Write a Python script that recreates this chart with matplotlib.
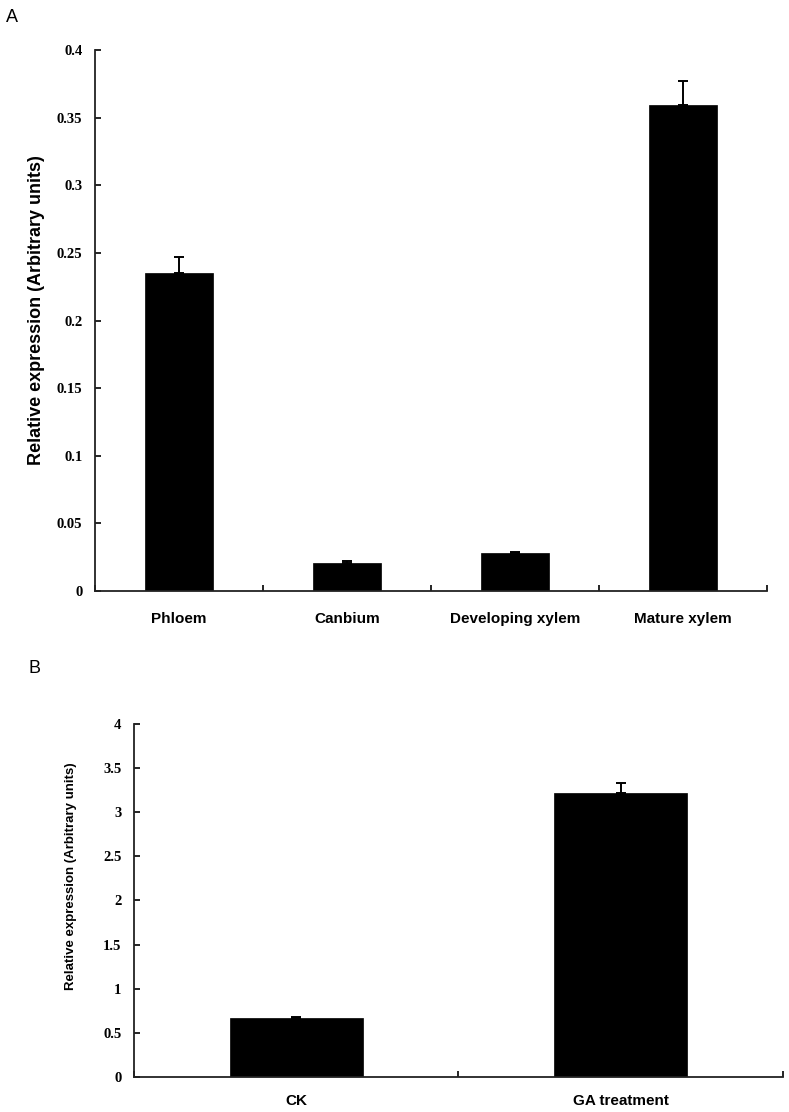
import numpy as np
import matplotlib
matplotlib.use("Agg")
import matplotlib.pyplot as plt

# panel A data
tissues = ["Phloem", "Canbium", "Developing xylem", "Mature xylem"]
tissue_expr = [0.235, 0.021, 0.028, 0.359]
tissue_err = [0.012, 0.001, 0.001, 0.018]
ticks_a = [0, 0.05, 0.1, 0.15, 0.2, 0.25, 0.3, 0.35, 0.4]
ticklabels_a = ["0", "0.05", "0.1", "0.15", "0.2", "0.25", "0.3", "0.35", "0.4"]

# panel B data
treatments = ["CK", "GA treatment"]
treat_expr = [0.665, 3.22]
treat_err = [0.015, 0.115]
ticks_b = [0, 0.5, 1, 1.5, 2, 2.5, 3, 3.5, 4]
ticklabels_b = ["0", "0.5", "1", "1.5", "2", "2.5", "3", "3.5", "4"]

ylab = "Relative expression (Arbitrary units)"

fig = plt.figure(figsize=(7.89, 11.12), dpi=100)


def draw_panel(ax, cats, vals, errs, ticks, ticklabels, xpad, ylab_size, ylab_pos):
    x = np.arange(len(cats))
    ax.bar(x, vals, width=0.41, color="black", edgecolor="black", linewidth=0.5)
    ax.errorbar(x, vals, yerr=[np.zeros(len(errs)), errs], fmt="none",
                ecolor="black", elinewidth=1.4, capsize=3.5, capthick=1.4)
    ax.set_xlim(-0.5, len(cats) - 0.5)
    ax.set_ylim(ticks[0], ticks[-1])
    for s in ["top", "right"]:
        ax.spines[s].set_visible(False)
    for s in ["left", "bottom"]:
        ax.spines[s].set_linewidth(1.3)
        ax.spines[s].set_color("#222222")
    ax.set_yticks(ticks)
    ax.set_yticklabels(ticklabels, fontfamily="Liberation Serif",
                       fontweight="bold", fontsize=10.5)
    ax.tick_params(axis="y", direction="in", length=4, width=1.2, pad=9)
    # category ticks sit on the boundaries between bars
    ax.set_xticks(np.arange(len(cats) + 1) - 0.5)
    ax.set_xticklabels([])
    ax.set_xticks(x, minor=True)
    ax.set_xticklabels(cats, minor=True, fontfamily="Liberation Sans",
                       fontweight="bold", fontsize=11)
    ax.tick_params(axis="x", which="major", direction="in", length=4, width=1.2)
    ax.tick_params(axis="x", which="minor", length=0, pad=xpad)
    ax.set_ylabel(ylab, fontfamily="Liberation Sans", fontweight="bold",
                  fontsize=ylab_size)
    ax.yaxis.set_label_coords(*ylab_pos)


ax_a = fig.add_axes([0.1204, 0.4685, 0.8517, 0.4865])
draw_panel(ax_a, tissues, tissue_expr, tissue_err, ticks_a, ticklabels_a,
           xpad=15, ylab_size=13, ylab_pos=(-0.074, 0.52))

ax_b = fig.add_axes([0.1698, 0.0315, 0.8226, 0.3174])
draw_panel(ax_b, treatments, treat_expr, treat_err, ticks_b, ticklabels_b,
           xpad=12, ylab_size=9.5, ylab_pos=(-0.088, 0.57))

fig.text(6 / 789, 1 - 22 / 1112, "A", fontfamily="Liberation Sans", fontsize=13)
fig.text(28 / 789, 1 - 673 / 1112, "B", fontfamily="Liberation Sans", fontsize=13)

fig.savefig("out.png", dpi=100, facecolor="white")
